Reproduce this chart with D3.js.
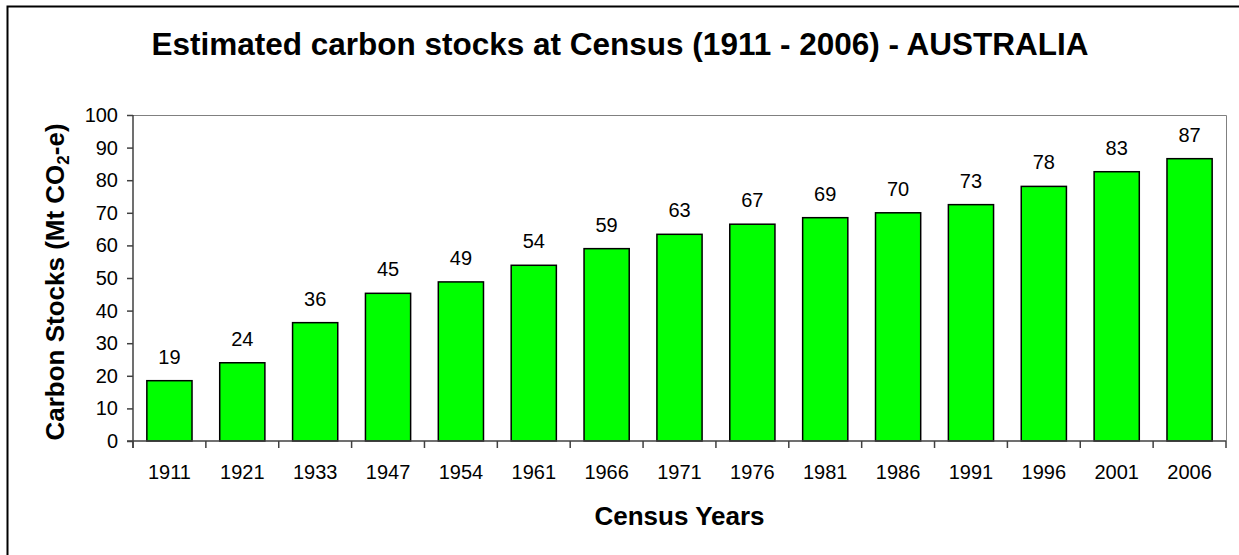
<!DOCTYPE html>
<html>
<head>
<meta charset="utf-8">
<script src="https://cdn.jsdelivr.net/npm/d3@7"></script>
<style>
  body { margin: 0; background: #fff; }
  svg { font-family: "Liberation Sans", Arial, sans-serif; display: block; }
</style>
</head>
<body>
<div id="chart"></div>
<script>
const years = ["1911", "1921", "1933", "1947", "1954", "1961", "1966", "1971", "1976", "1981", "1986", "1991", "1996", "2001", "2006"];
const stocks = [18.5, 24.0, 36.3, 45.3, 48.8, 53.9, 59.0, 63.4, 66.5, 68.5, 70.0, 72.5, 78.1, 82.6, 86.6];
const yTicks = [0, 10, 20, 30, 40, 50, 60, 70, 80, 90, 100];

document.addEventListener("DOMContentLoaded", drawChart)

function drawChart() {
    const width = 1239;
    const height = 555;
    const plot = {left: 133, top: 115, right: 1226, bottom: 441};

    const svg = d3.select("#chart").append("svg")
        .attr("width", width)
        .attr("height", height);

    // outer chart border (runs off the picture at right and bottom)
    svg.append("rect")
        .attr("x", 7.5).attr("y", 6.5)
        .attr("width", width + 20).attr("height", height + 20)
        .attr("fill", "none")
        .attr("stroke", "#000")
        .attr("stroke-width", 2);

    const x = d3.scaleBand()
        .domain(years)
        .range([plot.left, plot.right])
        .paddingInner(0.38)
        .paddingOuter(0.19);

    const y = d3.scaleLinear()
        .domain([0, 100])
        .range([plot.bottom, plot.top]);

    // plot area border (top + right)
    svg.append("path")
        .attr("d", `M${plot.left},${plot.top + 0.5}H${plot.right + 0.5}V${plot.bottom}`)
        .attr("fill", "none")
        .attr("stroke", "#808080")
        .attr("stroke-width", 1);

    svg.append("g")
        .selectAll("rect")
        .data(stocks)
        .enter()
        .append("rect")
        .attr("x", (d, i) => x(years[i]))
        .attr("y", d => y(d))
        .attr("width", x.bandwidth())
        .attr("height", d => y(0) - y(d))
        .attr("fill", "#00ff00")
        .attr("stroke", "#000")
        .attr("stroke-width", 1.5);

    svg.append("g")
        .selectAll("text")
        .data(stocks)
        .enter()
        .append("text")
        .attr("x", (d, i) => x(years[i]) + x.bandwidth() / 2)
        .attr("y", d => y(d) - 17)
        .attr("text-anchor", "middle")
        .attr("font-size", 20)
        .attr("fill", "#000")
        .text(d => Math.round(d));

    // y axis
    const yAxis = svg.append("g")
        .attr("transform", `translate(${plot.left},0)`)
        .call(d3.axisLeft(y).tickValues(yTicks).tickSize(6).tickPadding(9));
    yAxis.selectAll("text").attr("font-size", 20).attr("fill", "#000").attr("font-family", null);
    yAxis.selectAll("line,path").attr("stroke", "#404040").attr("stroke-width", 1.5);
    yAxis.select(".domain").attr("d", `M0,${plot.top}V${plot.bottom + 7}`);

    // x axis: ticks at the band boundaries
    const xAxis = svg.append("g")
        .attr("transform", `translate(0,${plot.bottom})`);
    xAxis.append("path")
        .attr("d", `M${plot.left - 6},0H${plot.right}`)
        .attr("stroke", "#404040")
        .attr("stroke-width", 1.5);
    xAxis.selectAll("line")
        .data(d3.range(years.length + 1))
        .enter()
        .append("line")
        .attr("x1", i => plot.left + i * (plot.right - plot.left) / years.length)
        .attr("x2", i => plot.left + i * (plot.right - plot.left) / years.length)
        .attr("y1", 0).attr("y2", 7)
        .attr("stroke", "#404040")
        .attr("stroke-width", 1.5);
    xAxis.selectAll("text")
        .data(years)
        .enter()
        .append("text")
        .attr("x", d => x(d) + x.bandwidth() / 2)
        .attr("y", 38)
        .attr("text-anchor", "middle")
        .attr("font-size", 20)
        .text(d => d);

    svg.append("text")
        .attr("x", 620)
        .attr("y", 55)
        .attr("text-anchor", "middle")
        .attr("font-size", 31.5)
        .attr("font-weight", "bold")
        .text("Estimated carbon stocks at Census (1911 - 2006) - AUSTRALIA");

    svg.append("text")
        .attr("x", (plot.left + plot.right) / 2)
        .attr("y", 525)
        .attr("text-anchor", "middle")
        .attr("font-size", 26)
        .attr("font-weight", "bold")
        .text("Census Years");

    const yLabel = svg.append("text")
        .attr("transform", `translate(64,${(plot.top + plot.bottom) / 2 + 4}) rotate(-90)`)
        .attr("text-anchor", "middle")
        .attr("font-size", 26)
        .attr("font-weight", "bold");
    yLabel.append("tspan").text("Carbon Stocks (Mt CO");
    yLabel.append("tspan").attr("font-size", 17).attr("dy", 5).text("2");
    yLabel.append("tspan").attr("dy", -5).text("-e)");
}
</script>
</body>
</html>
